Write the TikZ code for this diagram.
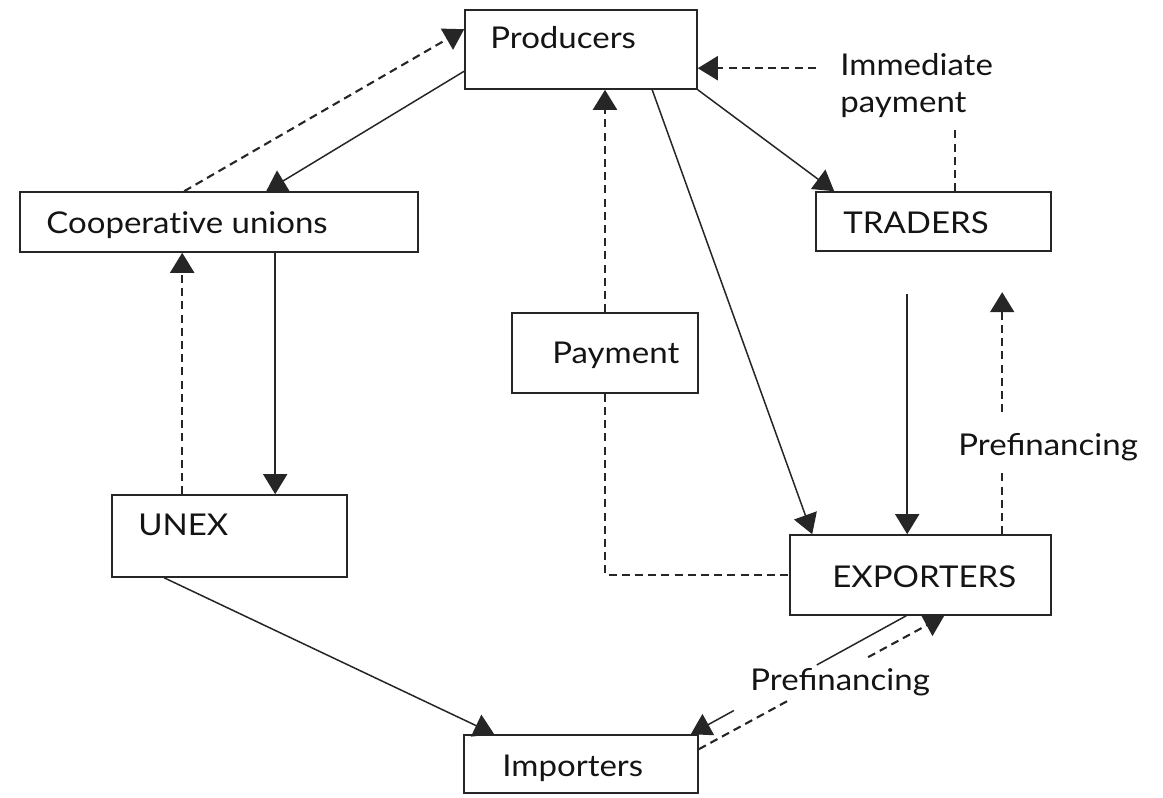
\documentclass[tikz,border=0pt]{standalone}
\usepackage{fontspec}
\setmainfont{Lato}[FakeStretch=1.1]
\usetikzlibrary{arrows.meta,calc}
\begin{document}
\begin{tikzpicture}[x=0.5pt,y=-0.5pt,
  bx/.style={draw=black!85, line width=0.8pt, inner sep=0pt},
  lbl/.style={inner sep=0pt, anchor=base west, font=\fontsize{15}{18}\selectfont, text=black!92},
  ln/.style={draw=black!85, line width=0.75pt},
  dsh/.style={ln, line width=1.05pt, dash pattern=on 4pt off 2.6pt},
  arr/.style={-{Triangle[length=10pt,width=12pt]}}]
\useasboundingbox (0,0) rectangle (1163,798);
% boxes
\node[bx, minimum width=116pt, minimum height=39.5pt] (prod) at (581,49.5) {};
\node[bx, minimum width=199pt, minimum height=30pt] (coop) at (219,222) {};
\node[bx, minimum width=117.5pt, minimum height=29.5pt] (trad) at (933.5,221.5) {};
\node[bx, minimum width=93pt, minimum height=40pt] (pay) at (605,353) {};
\node[bx, minimum width=117.5pt, minimum height=41pt] (unex) at (229.5,536) {};
\node[bx, minimum width=130.5pt, minimum height=40pt] (exp) at (920.5,575) {};
\node[bx, minimum width=117pt, minimum height=29pt] (imp) at (581,764) {};
% labels
\node[lbl] (tprod) at (490,48) {Producers};
\node[lbl] (tcoop) at (46,233) {Cooperat\kern0pt ive unions};
\node[lbl] (ttrad) at (843,233) {TRADERS};
\node[lbl] (tpay) at (552,363) {Payment};
\node[lbl] (tunex) at (138,535) {UNEX};
\node[lbl] (texp) at (832,587) {EXPORTERS};
\node[lbl] (timp) at (502,776) {Importers};
\node[lbl] (timm1) at (840,75) {Immediate};
\node[lbl] (timm2) at (840,112) {payment};
\node[lbl] (tpf1) at (958,455) {Prefinancing};
\node[lbl] (tpf2) at (750,690) {Prefinancing};
% connectors
\draw[dsh,arr] ($(coop.north west)+(165,0)$) -- ($(prod.north west)+(0,20)$);
\draw[ln,arr] ($(prod.north west)+(0,62)$) -- ($(coop.north west)+(247,0)$);
\coordinate (u1) at ($(unex.north west)+(71,0)$);
\draw[dsh,arr] (u1) -- (u1 |- coop.south);
\coordinate (c1) at ($(coop.south west)+(256,0)$);
\draw[ln,arr] (c1) -- (c1 |- unex.north);
\draw[ln,arr] ($(unex.south west)+(53,0)$) -- ($(imp.north west)+(31,0)$);
\draw[dsh,arr] (pay.north) -- (pay.north |- prod.south);
\draw[dsh] (pay.south) -- (pay.south |- exp.west) -- (exp.west);
\draw[ln,arr] ($(prod.south west)+(188,0)$) -- ($(exp.north west)+(23,0)$);
\draw[ln,arr] (prod.south east) -- ($(trad.north west)+(19,0)$);
% immediate payment
\coordinate (ip1) at ($(trad.north west)+(140,0)$);
\coordinate (ip2) at ($(trad.north west)+(140,-62)$);
\draw[dsh] (ip1) -- (ip2);
\coordinate (ip3) at ($(prod.north east)+(118,59)$);
\draw[dsh,arr] (ip3) -- ($(prod.north east)+(0,59)$);
% traders -> exporters
\coordinate (ts) at ($(trad.south west)+(92,42)$);
\draw[ln,arr] (ts) -- (ts |- exp.north);
% prefinancing right
\coordinate (pf0) at ($(exp.north west)+(213,0)$);
\coordinate (pfa) at ($(exp.north west)+(213,-62)$);
\coordinate (pfb) at ($(exp.north west)+(213,-122)$);
\coordinate (pfc) at ($(exp.north west)+(213,-242)$);
\draw[dsh] (pf0) -- (pfa);
\draw[dsh,arr] (pfb) -- (pfc);
% exporters -> importers
\coordinate (ea) at ($(exp.south west)+(117,0)$);
\coordinate (eb) at ($(imp.north east)+(-8,0)$);
\draw[ln] (ea) -- ($(ea)!0.415!(eb)$);
\draw[ln,arr] ($(ea)!0.8!(eb)$) -- (eb);
% importers -> exporters
\coordinate (ia) at ($(imp.north east)+(0,15)$);
\coordinate (ib) at ($(exp.south west)+(155,0)$);
\draw[dsh] (ia) -- ($(ia)!0.36!(ib)$);
\draw[dsh,arr] ($(ia)!0.69!(ib)$) -- (ib);
\end{tikzpicture}
\end{document}
